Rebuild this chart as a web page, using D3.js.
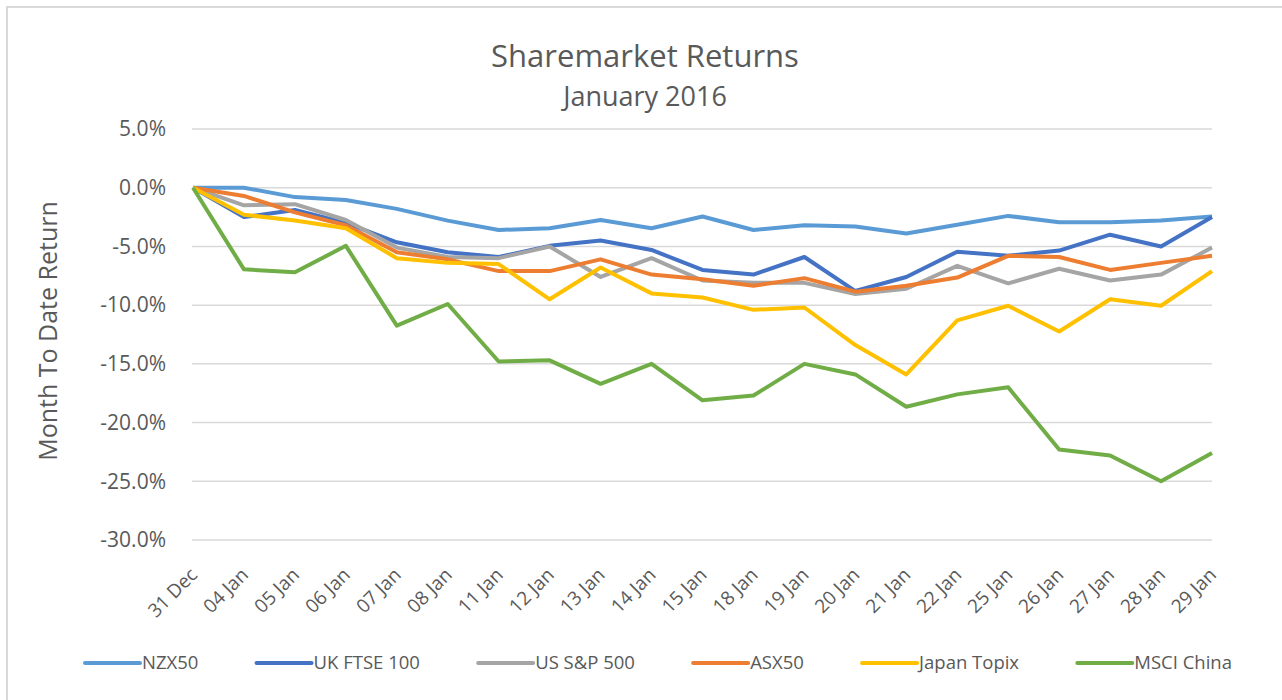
<!DOCTYPE html>
<html>
<head>
<meta charset="utf-8">
<script src="https://cdn.jsdelivr.net/npm/d3@7"></script>
<style>
body{margin:0;background:#fff;}
svg{display:block;font-family:"Open Sans",sans-serif;}
</style>
</head>
<body>
<div id="chart"></div>
<script>
var dates=["31 Dec","04 Jan","05 Jan","06 Jan","07 Jan","08 Jan","11 Jan","12 Jan","13 Jan","14 Jan","15 Jan","18 Jan","19 Jan","20 Jan","21 Jan","22 Jan","25 Jan","26 Jan","27 Jan","28 Jan","29 Jan"];
var nzx50=[0,0.0,-0.8,-1.05,-1.8,-2.8,-3.6,-3.45,-2.75,-3.45,-2.45,-3.6,-3.2,-3.3,-3.9,-3.15,-2.4,-2.95,-2.95,-2.8,-2.45];
var ukFtse=[0,-2.5,-1.9,-3.0,-4.65,-5.5,-5.9,-4.95,-4.5,-5.3,-7.0,-7.4,-5.9,-8.8,-7.6,-5.45,-5.8,-5.35,-4.0,-5.0,-2.5];
var usSp=[0,-1.5,-1.4,-2.75,-5.1,-5.9,-6.0,-5.0,-7.6,-6.0,-7.9,-8.1,-8.1,-9.05,-8.6,-6.65,-8.15,-6.9,-7.9,-7.4,-5.1];
var asx50=[0,-0.7,-2.1,-3.2,-5.5,-6.1,-7.1,-7.1,-6.1,-7.4,-7.8,-8.35,-7.7,-8.85,-8.35,-7.65,-5.8,-5.9,-7.0,-6.4,-5.8];
var topix=[0,-2.3,-2.8,-3.45,-6.0,-6.4,-6.5,-9.5,-6.8,-9.0,-9.35,-10.4,-10.2,-13.4,-15.9,-11.3,-10.05,-12.25,-9.5,-10.05,-7.1];
var msciChina=[0,-6.95,-7.2,-4.95,-11.75,-9.9,-14.8,-14.7,-16.7,-15.0,-18.1,-17.7,-15.0,-15.9,-18.65,-17.6,-17.0,-22.3,-22.8,-25.0,-22.6];
var seriesNames=["NZX50","UK FTSE 100","US S&P 500","ASX50","Japan Topix","MSCI China"];
var seriesValues=[nzx50,ukFtse,usSp,asx50,topix,msciChina];
var seriesColors=["#5B9BD5","#4472C4","#A5A5A5","#ED7D31","#FFC000","#70AD47"];
var yTicks=[5,0,-5,-10,-15,-20,-25,-30];

var W=1282,H=700;
var svg=d3.select("#chart").append("svg")
	.attr("width",W)
	.attr("height",H);

// outer frame (only top and left edges are visible)
svg.append("path")
	.attr("d","M7 "+H+" L7 7 L"+W+" 7")
	.attr("fill","none")
	.attr("stroke","#d9d9d9")
	.attr("stroke-width",2);

var x=d3.scalePoint().domain(dates).range([193,1212]);
var y=d3.scaleLinear().domain([-30,5]).range([540,129]);

// gridlines
svg.append("g")
	.selectAll("line")
	.data(yTicks)
	.enter()
	.append("line")
	.attr("x1",192)
	.attr("x2",1212)
	.attr("y1",function(d){return y(d);})
	.attr("y2",function(d){return y(d);})
	.attr("stroke","#d9d9d9")
	.attr("stroke-width",1.5);

// y axis
var yAxis=svg.append("g")
	.attr("transform","translate(192,0)")
	.call(d3.axisLeft(y).tickValues(yTicks).tickSize(0).tickPadding(26)
		.tickFormat(function(d){return d.toFixed(1)+"%";}));
yAxis.select(".domain").remove();
yAxis.selectAll("text")
	.attr("fill","#595959")
	.style("font-size","21px")
	.style("font-family","'Open Sans',sans-serif");

// x axis
var xAxis=svg.append("g")
	.attr("transform","translate(0,540)")
	.call(d3.axisBottom(x).tickSize(0));
xAxis.select(".domain").remove();
xAxis.selectAll("text")
	.attr("fill","#595959")
	.style("font-size","19px")
	.style("font-family","'Open Sans',sans-serif")
	.attr("text-anchor","end")
	.attr("dy",0)
	.attr("y",0)
	.attr("transform","translate(5,36) rotate(-45)");

// lines
var line=d3.line()
	.x(function(d,i){return x(dates[i]);})
	.y(function(d){return y(d);});
svg.append("g")
	.selectAll("path")
	.data(seriesValues)
	.enter()
	.append("path")
	.attr("d",line)
	.attr("fill","none")
	.attr("stroke",function(d,i){return seriesColors[i];})
	.attr("stroke-width",4)
	.attr("stroke-linejoin","round");

// titles
svg.append("text")
	.text("Sharemarket Returns")
	.attr("x",645)
	.attr("y",67)
	.attr("text-anchor","middle")
	.attr("fill","#595959")
	.style("font-size","31px");
svg.append("text")
	.text("January 2016")
	.attr("x",645)
	.attr("y",106)
	.attr("text-anchor","middle")
	.attr("fill","#595959")
	.style("font-size","27px");
svg.append("text")
	.text("Month To Date Return")
	.attr("transform","translate(57,331) rotate(-90)")
	.attr("text-anchor","middle")
	.attr("fill","#595959")
	.style("font-size","25px");

// legend
var legend=svg.append("g");
var items=legend.selectAll("g")
	.data(seriesNames)
	.enter()
	.append("g");
items.append("line")
	.attr("x1",0).attr("x2",55)
	.attr("y1",0).attr("y2",0)
	.attr("stroke",function(d,i){return seriesColors[i];})
	.attr("stroke-width",4)
	.attr("stroke-linecap","round");
items.append("text")
	.text(function(d){return d;})
	.attr("x",57)
	.attr("y",0)
	.attr("dy","0.35em")
	.attr("fill","#595959")
	.style("font-size","18.5px");
var widths=[];
items.each(function(){
	widths.push(57+d3.select(this).select("text").node().getComputedTextLength());
});
var legendLeft=85,legendRight=1232;
var gap=(legendRight-legendLeft-d3.sum(widths))/(widths.length-1);
var pos=legendLeft;
items.each(function(d,i){
	d3.select(this).attr("transform","translate("+pos+",0)");
	pos+=widths[i]+gap;
});
legend.attr("transform","translate(0,663)");
</script>
</body>
</html>
